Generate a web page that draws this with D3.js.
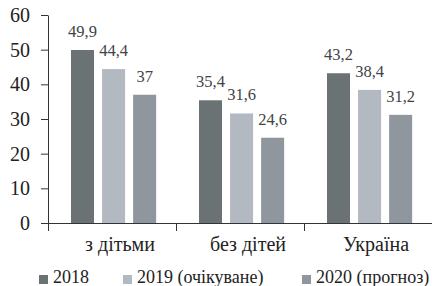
<!DOCTYPE html>
<html><head><meta charset="utf-8">
<script src="https://cdn.jsdelivr.net/npm/d3@7"></script>
<style>body{margin:0;background:#fff}</style>
</head><body>
<svg id="c" width="432" height="286"></svg>
<script>
const categories = ["з дітьми", "без дітей", "Україна"];
const seriesNames = ["2018", "2019 (очікуване)", "2020 (прогноз)"];
const v2018 = [49.9, 35.4, 43.2];
const v2019 = [44.4, 31.6, 38.4];
const v2020 = [37, 24.6, 31.2];
const yTicks = [0, 10, 20, 30, 40, 50, 60];
const colors = ["#6b7274", "#b3b9c0", "#8f969d"];
const series = [v2018, v2019, v2020];

const FONT = '"Liberation Serif", "Times New Roman", serif';
const svg = d3.select("#c");
const x = d3.scaleBand().domain(categories).range([48, 432]);
const y = d3.scaleLinear().domain([0, 60]).range([223, 15]);
const xs = d3.scaleBand().domain(d3.range(3)).range([0, 87]).paddingInner(0.2);
const fmt = v => String(v).replace(".", ",");

// bars
series.forEach((vals, si) => {
  svg.append("g").selectAll("rect").data(vals).join("rect")
    .attr("x", (d, i) => x(categories[i]) + 23 + xs(si))
    .attr("y", d => y(d))
    .attr("width", 23)
    .attr("height", d => y(0) - y(d))
    .attr("fill", colors[si]);
  svg.append("g").selectAll("text").data(vals).join("text")
    .attr("x", (d, i) => x(categories[i]) + 23 + xs(si) + 11.5)
    .attr("y", d => y(d) - 13)
    .attr("text-anchor", "middle")
    .attr("font-size", 16.5)
    .style("font-family", FONT).attr("fill", "#3f4446")
    .text(d => fmt(d));
});

// y axis
const ya = svg.append("g").attr("transform", "translate(48,0)")
  .call(d3.axisLeft(y).tickValues(yTicks).tickSize(7).tickPadding(11).tickSizeOuter(0));
ya.attr("font-family", null).attr("font-size", null);
ya.selectAll("text").attr("font-size", 20).style("font-family", FONT).attr("fill", "#222");
ya.selectAll("line,path").attr("stroke", "#333");

// x axis
const xa = svg.append("g").attr("transform", "translate(0,223)")
  .call(d3.axisBottom(d3.scaleLinear().domain([0, 3]).range([48, 432])).tickValues([0,1,2]).tickSize(8).tickFormat("").tickSizeOuter(0));
xa.selectAll("line,path").attr("stroke", "#333");

svg.append("g").selectAll("text").data(categories).join("text")
  .attr("x", d => x(d) + x.bandwidth() / 2 + 8)
  .attr("y", 251)
  .attr("text-anchor", "middle")
  .attr("font-size", 20)
  .style("font-family", FONT).attr("fill", "#222")
  .text(d => d);

// legend
const legX = [39, 123, 302];
const lg = svg.append("g").selectAll("g").data(seriesNames).join("g")
  .attr("transform", (d, i) => `translate(${legX[i]},0)`);
lg.append("rect").attr("x", 0).attr("y", 275).attr("width", 9).attr("height", 9)
  .attr("fill", (d, i) => colors[i]);
lg.append("text").attr("x", 14).attr("y", 283)
  .attr("font-size", 18)
  .style("font-family", FONT).attr("fill", "#222")
  .text(d => d);
</script>
</body></html>
